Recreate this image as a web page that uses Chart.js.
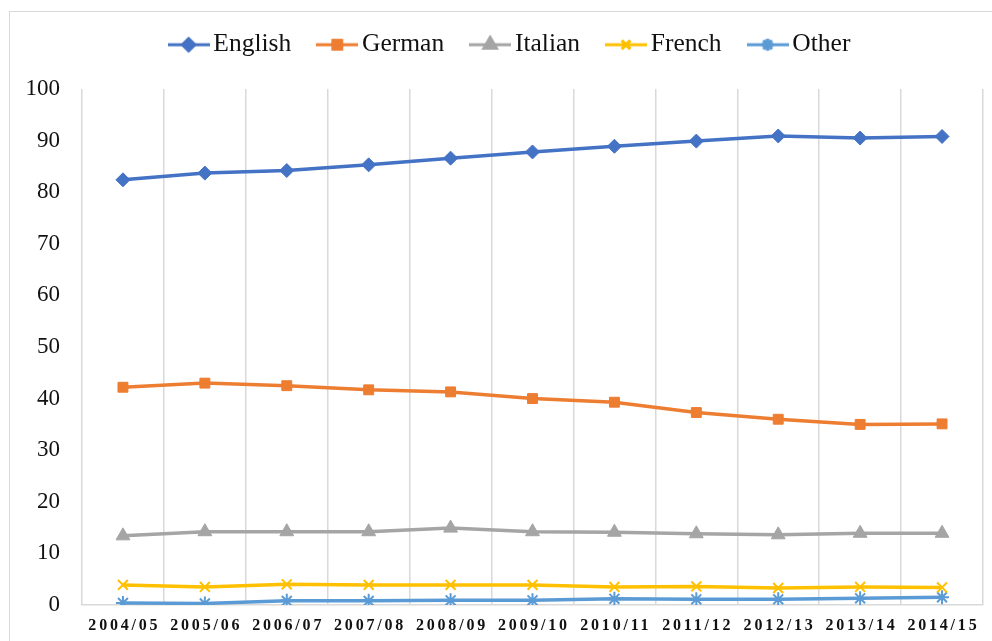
<!DOCTYPE html>
<html>
<head>
<meta charset="utf-8">
<script src="https://cdn.jsdelivr.net/npm/chart.js@4.4.1/dist/chart.umd.min.js"></script>
<style>
  html, body { margin: 0; padding: 0; background: #fff; overflow: hidden; }
  #wrap { position: relative; width: 992px; height: 641px; }
  #frame { position: absolute; left: 9px; top: 11px; width: 1100px; height: 800px;
           border: 1.5px solid #d9d9d9; box-sizing: border-box; }
  canvas { position: absolute; left: 0; top: 0; }
</style>
</head>
<body>
<div id="wrap">
  <div id="frame"></div>
  <canvas id="myChart" width="992" height="641"></canvas>
</div>
<script>
const years = ['2004/05','2005/06','2006/07','2007/08','2008/09','2009/10','2010/11','2011/12','2012/13','2013/14','2014/15'];
const english = [82.4, 83.7, 84.2, 85.3, 86.6, 87.8, 88.9, 89.9, 90.9, 90.5, 90.8];
const german  = [42.2, 43.0, 42.5, 41.7, 41.3, 40.0, 39.3, 37.3, 36.0, 35.0, 35.1];
const italian = [13.4, 14.2, 14.2, 14.2, 14.9, 14.2, 14.1, 13.8, 13.6, 13.9, 13.9];
const french  = [3.9, 3.5, 4.0, 3.9, 3.9, 3.9, 3.5, 3.6, 3.3, 3.5, 3.4];
const other   = [0.4, 0.3, 0.8, 0.8, 0.9, 0.9, 1.2, 1.1, 1.1, 1.3, 1.5];

const serif = "'Liberation Serif', 'Times New Roman', serif";

// legend icon: short line with the marker in the middle
function legendIcon(color, style, r) {
  const c = document.createElement('canvas');
  c.width = 42; c.height = 20;
  const g = c.getContext('2d');
  g.strokeStyle = color; g.fillStyle = color;
  g.lineWidth = 3;
  g.beginPath(); g.moveTo(0, 10); g.lineTo(42, 10); g.stroke();
  Chart.helpers.drawPoint(g, {pointStyle: style, radius: r - 1, borderWidth: 1.5, rotation: 0}, 21, 10);
  g.fill(); g.stroke();
  return c;
}

function series(label, data, color, style, r, bw) {
  return {
    label: label,
    data: data,
    borderColor: color,
    backgroundColor: color,
    borderWidth: 3.5,
    pointStyle: style,
    pointRadius: r,
    pointHoverRadius: r,
    pointBorderWidth: bw,
    pointBackgroundColor: color,
    pointBorderColor: color,
    tension: 0,
    fill: false
  };
}

// legend box gets a fixed height so the plot starts where it does in the picture,
// and is nudged right a little like the original
const legendHeight = {
  id: 'legendHeight',
  beforeLayout(chart) {
    const lg = chart.legend;
    if (lg && !lg._fixed) {
      const fit = lg.fit;
      lg.fit = function () { fit.call(this); this.height = 91; };
      const draw = lg.draw;
      lg.draw = function () {
        this.ctx.save();
        this.ctx.translate(22, 0);
        draw.call(this);
        this.ctx.restore();
      };
      lg._fixed = true;
    }
  }
};

const ctx = document.getElementById('myChart').getContext('2d');
const myChart = new Chart(ctx, {
  type: 'line',
  data: {
    labels: years,
    datasets: [
      series('English', english, '#4472C4', 'rectRot', 7, 1),
      series('German', german, '#ED7D31', 'rect', 7, 1),
      series('Italian', italian, '#A5A5A5', 'triangle', 8, 1),
      series('French', french, '#FFC000', 'crossRot', 7, 2),
      series('Other', other, '#5B9BD5', 'star', 7, 2)
    ]
  },
  plugins: [legendHeight],
  options: {
    responsive: false,
    animation: false,
    layout: { padding: { top: -2, right: 9, bottom: 0, left: 0 } },
    plugins: {
      tooltip: { enabled: false },
      legend: {
        position: 'top',
        labels: {
          usePointStyle: true,
          pointStyleWidth: 24,
          padding: 34,
          color: '#111',
          font: { family: serif, size: 25.5 },
          generateLabels: function (chart) {
            return chart.data.datasets.map(function (ds, i) {
              return {
                text: ds.label,
                pointStyle: legendIcon(ds.borderColor, ds.pointStyle, ds.pointRadius),
                fillStyle: ds.borderColor,
                strokeStyle: ds.borderColor,
                lineWidth: 0,
                fontColor: '#111',
                hidden: false,
                datasetIndex: i
              };
            });
          }
        }
      }
    },
    scales: {
      x: {
        offset: true,
        grid: { offset: true, color: '#d9d9d9', lineWidth: 1.5, drawTicks: false },
        border: { display: true, color: '#d9d9d9', width: 1.5 },
        ticks: {
          color: '#111',
          padding: 11,
          maxRotation: 0,
          autoSkip: false,
          font: { family: serif, size: 16, weight: 'bold' }
        },
        afterFit: function (scale) {
          scale.height = 36;
          const draw = scale.drawLabels;
          scale.drawLabels = function (area) {
            this.ctx.save();
            this.ctx.letterSpacing = '2.8px';
            this.ctx.translate(1.4, 0);
            draw.call(this, area);
            this.ctx.restore();
          };
        }
      },
      y: {
        min: 0,
        max: 100,
        grid: { display: false, drawTicks: false },
        border: { display: false },
        ticks: {
          stepSize: 10,
          color: '#111',
          padding: 22,
          font: { family: serif, size: 23 }
        },
        afterFit: function (scale) { scale.width = 82; }
      }
    }
  }
});
</script>
</body>
</html>
